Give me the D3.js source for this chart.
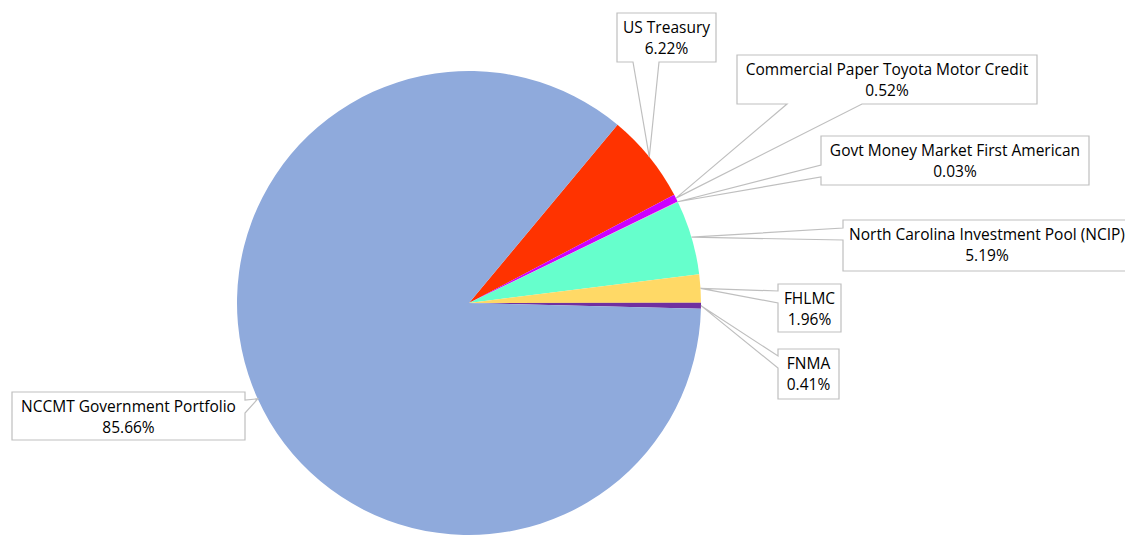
<!DOCTYPE html>
<html>
<head>
<meta charset="utf-8">
<script src="https://cdn.jsdelivr.net/npm/d3@7"></script>
<style>
  html, body { margin: 0; padding: 0; background: #ffffff; }
  svg { display: block; }
  text { font-family: "Open Sans", Lato, sans-serif; fill: #000; }
</style>
</head>
<body>
<svg id="chart" width="1125" height="535"></svg>
<script>
// ---- data ----
const categories = [
  "US Treasury",
  "Commercial Paper Toyota Motor Credit",
  "Govt Money Market First American",
  "North Carolina Investment Pool (NCIP)",
  "FHLMC",
  "FNMA",
  "NCCMT Government Portfolio"
];
const values = [6.22, 0.52, 0.03, 5.19, 1.96, 0.41, 85.66];
const valueLabels = ["6.22%", "0.52%", "0.03%", "5.19%", "1.96%", "0.41%", "85.66%"];

// ---- styles / layout ----
const colors = ["#FF3300", "#CC00FF", "#FF66CC", "#66FFCC", "#FFD966", "#7030A0", "#8FAADC"];
const cx = 469, cy = 303, radius = 232;
const startDeg = 39.8;

// label callout boxes: x, y, w, h, side of wedge, base positions along that side
const callouts = [
  { x: 617, y: 13,  w: 99,  h: 49, side: "bottom", b1: 633, b2: 659 },
  { x: 737, y: 55,  w: 300, h: 49, side: "bottom", b1: 787, b2: 862 },
  { x: 821, y: 136, w: 268, h: 49, side: "left",   b1: 165, b2: 177 },
  { x: 843, y: 220, w: 288, h: 51, side: "left",   b1: 228, b2: 240 },
  { x: 778, y: 284, w: 63,  h: 48, side: "left",   b1: 291, b2: 303 },
  { x: 778, y: 349, w: 61,  h: 50, side: "left",   b1: 356, b2: 368 },
  { x: 12,  y: 392, w: 233, h: 48, side: "right",  b1: 400, b2: 413 }
];

const svg = d3.select("#chart");
const g = svg.append("g").attr("transform", `translate(${cx},${cy})`);

const pie = d3.pie().sort(null).value(d => d)
  .startAngle(startDeg * Math.PI / 180)
  .endAngle(startDeg * Math.PI / 180 + 2 * Math.PI);
const arcs = pie(values);
const arc = d3.arc().innerRadius(0).outerRadius(radius);

g.selectAll("path.slice")
  .data(arcs)
  .join("path")
  .attr("class", "slice")
  .attr("d", arc)
  .attr("fill", (d, i) => colors[i]);

// callouts
function tipOf(a) {
  const m = (a.startAngle + a.endAngle) / 2;
  return [cx + radius * Math.sin(m), cy - radius * Math.cos(m)];
}
function calloutPath(c, t) {
  const x0 = c.x, y0 = c.y, x1 = c.x + c.w, y1 = c.y + c.h;
  const p = d3.path();
  if (c.side === "bottom") {
    p.moveTo(x0, y0); p.lineTo(x1, y0); p.lineTo(x1, y1);
    p.lineTo(c.b2, y1); p.lineTo(t[0], t[1]); p.lineTo(c.b1, y1);
    p.lineTo(x0, y1); p.closePath();
  } else if (c.side === "left") {
    p.moveTo(x0, y0); p.lineTo(x1, y0); p.lineTo(x1, y1); p.lineTo(x0, y1);
    p.lineTo(x0, c.b2); p.lineTo(t[0], t[1]); p.lineTo(x0, c.b1); p.closePath();
  } else {
    p.moveTo(x0, y0); p.lineTo(x1, y0); p.lineTo(x1, c.b1);
    p.lineTo(t[0], t[1]); p.lineTo(x1, c.b2); p.lineTo(x1, y1);
    p.lineTo(x0, y1); p.closePath();
  }
  return p.toString();
}

const lab = svg.append("g");
categories.forEach((name, i) => {
  const c = callouts[i];
  const t = tipOf(arcs[i]);
  lab.append("path")
    .attr("d", calloutPath(c, t))
    .attr("fill", "#ffffff")
    .attr("stroke", "#BFBFBF")
    .attr("stroke-width", 1.2);
  const tx = c.x + c.w / 2;
  const txt = lab.append("text")
    .attr("text-anchor", "middle")
    .attr("font-size", "15.5px");
  txt.append("tspan").attr("x", tx).attr("y", c.y + 20).text(name);
  txt.append("tspan").attr("x", tx).attr("y", c.y + 41).text(valueLabels[i]);
});
</script>
</body>
</html>
